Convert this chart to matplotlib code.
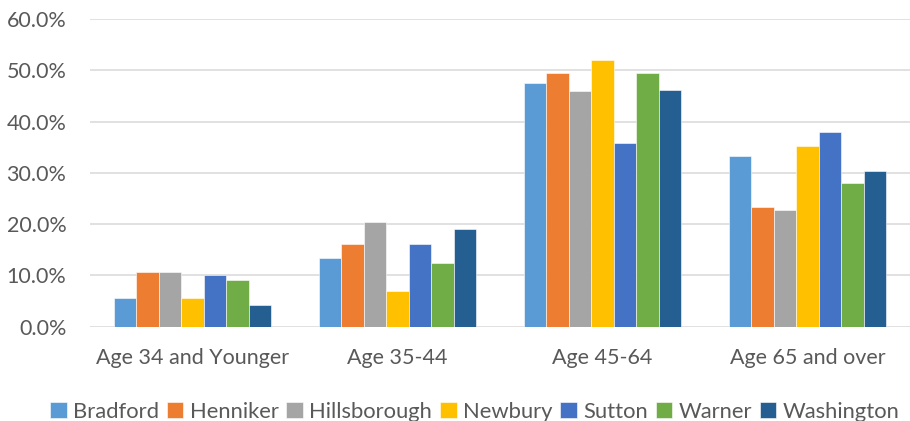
import numpy as np
import matplotlib
matplotlib.use("Agg")
import matplotlib.pyplot as plt
from matplotlib.ticker import FuncFormatter

# age-group share by town
groups = ["Age 34 and Younger", "Age 35-44", "Age 45-64", "Age 65 and over"]
towns = ["Bradford", "Henniker", "Hillsborough", "Newbury", "Sutton", "Warner", "Washington"]

bradford = [5.5, 13.3, 47.5, 33.3]
henniker = [10.7, 16.1, 49.5, 23.3]
hillsborough = [10.7, 20.4, 46.0, 22.7]
newbury = [5.5, 6.9, 52.0, 35.2]
sutton = [10.0, 16.1, 35.9, 38.0]
warner = [9.2, 12.4, 49.5, 28.0]
washington = [4.2, 19.0, 46.1, 30.3]

series = [bradford, henniker, hillsborough, newbury, sutton, warner, washington]
colors = ["#5B9BD5", "#ED7D31", "#A5A5A5", "#FFC000", "#4472C4", "#70AD47", "#255E91"]

plt.rcParams["font.family"] = ["Lato", "DejaVu Sans"]
txt = "#595959"

fig = plt.figure(figsize=(9.1, 4.21), dpi=100)
ax = fig.add_axes([90/910, (421-326.7)/421, 820/910, (326.7-19)/421])

x = np.arange(len(groups))
w = 0.77/len(towns)
for i, (vals, c, name) in enumerate(zip(series, colors, towns)):
    ax.bar(x + (i - 3)*w, vals, w, color=c, label=name,
           edgecolor="white", linewidth=0.4, zorder=3)

ax.set_xlim(-0.5, 3.5)
ax.set_ylim(0, 60)
ax.set_yticks(np.arange(0, 61, 10))
ax.yaxis.set_major_formatter(FuncFormatter(lambda v, p: "%.1f%%" % v))
ax.set_xticks(x)
ax.set_xticklabels(groups)
ax.grid(axis="y", color="#D9D9D9", linewidth=1.1, zorder=0)
for s in ax.spines.values():
    s.set_visible(False)
ax.tick_params(axis="both", length=0, labelsize=15.5, colors=txt)
ax.tick_params(axis="y", pad=17)
ax.tick_params(axis="x", pad=15)

fig.legend(loc="center", bbox_to_anchor=(475/910, (421-412)/421), ncol=7,
           frameon=False, fontsize=15.8, labelcolor=txt,
           handlelength=0.75, handleheight=0.75, handletextpad=0.3,
           columnspacing=0.35, borderaxespad=0)

fig.savefig("out.png", dpi=100)
